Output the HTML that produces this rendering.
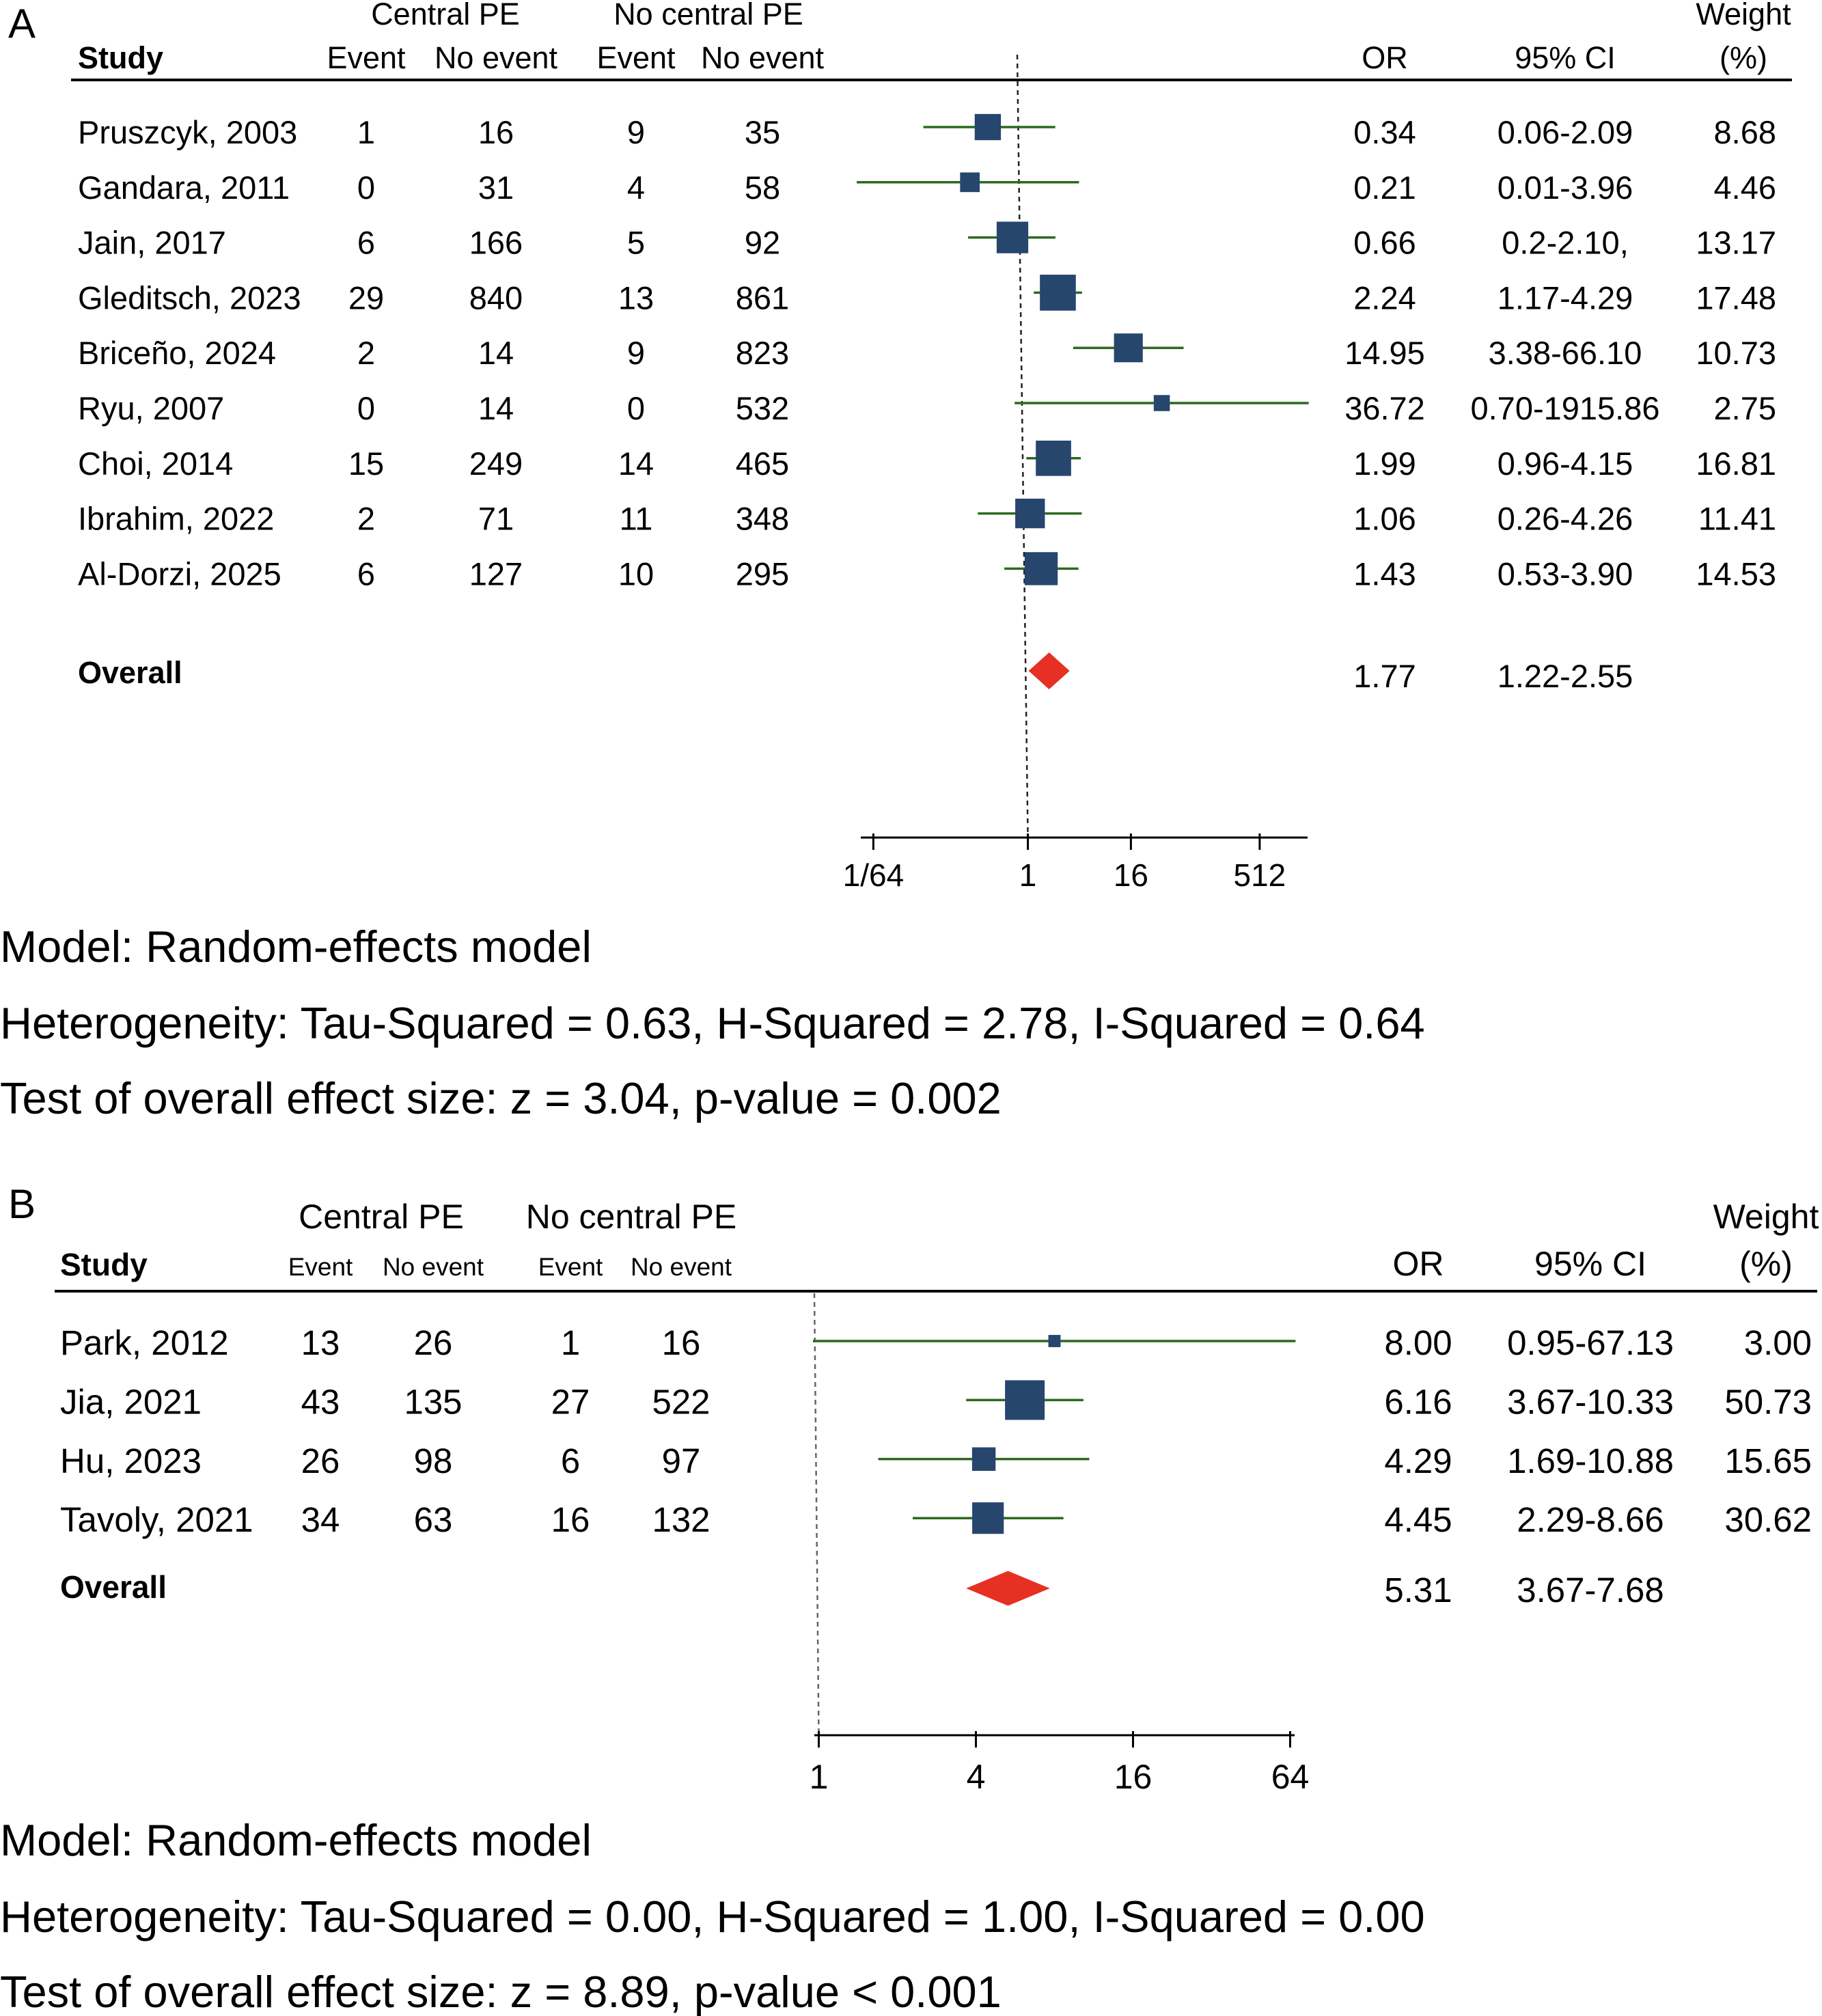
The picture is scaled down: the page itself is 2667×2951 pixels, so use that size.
<!DOCTYPE html>
<html><head><meta charset="utf-8"><style>
html,body{margin:0;padding:0;background:#fff;}
svg{display:block;font-family:"Liberation Sans",Arial,sans-serif;}
</style></head><body>
<svg id="fig" width="2667" height="2951" viewBox="0 0 2667 2951" xmlns="http://www.w3.org/2000/svg">
<g id="panelA"></g>
<g id="panelB"></g>
</svg>
<script>
// ---- Panel A data ----
const A_studies=["Pruszcyk, 2003","Gandara, 2011","Jain, 2017","Gleditsch, 2023","Briceño, 2024","Ryu, 2007","Choi, 2014","Ibrahim, 2022","Al-Dorzi, 2025"];
const A_ev1=["1","0","6","29","2","0","15","2","6"];
const A_ne1=["16","31","166","840","14","14","249","71","127"];
const A_ev2=["9","4","5","13","9","0","14","11","10"];
const A_ne2=["35","58","92","861","823","532","465","348","295"];
const A_or=[0.34,0.21,0.66,2.24,14.95,36.72,1.99,1.06,1.43];
const A_lo=[0.06,0.01,0.2,1.17,3.38,0.70,0.96,0.26,0.53];
const A_hi=[2.09,3.96,2.10,4.29,66.10,1915.86,4.15,4.26,3.90];
const A_w=[8.68,4.46,13.17,17.48,10.73,2.75,16.81,11.41,14.53];
const A_orText=["0.34","0.21","0.66","2.24","14.95","36.72","1.99","1.06","1.43"];
const A_ciText=["0.06-2.09","0.01-3.96","0.2-2.10,","1.17-4.29","3.38-66.10","0.70-1915.86","0.96-4.15","0.26-4.26","0.53-3.90"];
const A_wText=["8.68","4.46","13.17","17.48","10.73","2.75","16.81","11.41","14.53"];
const A_overall=[1.77,1.22,2.55];
const A_overallText=["1.77","1.22-2.55"];
const A_ticks=[1/64,1,16,512];
const A_tickLabels=["1/64","1","16","512"];
const A_stats=["Model: Random-effects model","Heterogeneity: Tau-Squared = 0.63, H-Squared = 2.78, I-Squared = 0.64","Test of overall effect size: z = 3.04, p-value = 0.002"];
// ---- Panel B data ----
const B_studies=["Park, 2012","Jia, 2021","Hu, 2023","Tavoly, 2021"];
const B_ev1=["13","43","26","34"];
const B_ne1=["26","135","98","63"];
const B_ev2=["1","27","6","16"];
const B_ne2=["16","522","97","132"];
const B_or=[8.00,6.16,4.29,4.45];
const B_lo=[0.95,3.67,1.69,2.29];
const B_hi=[67.13,10.33,10.88,8.66];
const B_w=[3.00,50.73,15.65,30.62];
const B_orText=["8.00","6.16","4.29","4.45"];
const B_ciText=["0.95-67.13","3.67-10.33","1.69-10.88","2.29-8.66"];
const B_wText=["3.00","50.73","15.65","30.62"];
const B_overall=[5.31,3.67,7.68];
const B_overallText=["5.31","3.67-7.68"];
const B_ticks=[1,4,16,64];
const B_tickLabels=["1","4","16","64"];
const B_stats=["Model: Random-effects model","Heterogeneity: Tau-Squared = 0.00, H-Squared = 1.00, I-Squared = 0.00","Test of overall effect size: z = 8.89, p-value < 0.001"];

const NS="http://www.w3.org/2000/svg";
const BOX="#27466e", LINE="#2b6a1e", DIA="#e63024";
function mk(parent,tag,attrs,name,txt){
  const el=document.createElementNS(NS,tag);
  for(const k in attrs) el.setAttribute(k,attrs[k]);
  
  
  if(txt!==undefined) el.textContent=txt;
  parent.appendChild(el);
  return el;
}
function T(p,x,y,s,size,anchor,name,bold){
  return mk(p,'text',{x:x,y:y,'font-size':size,'text-anchor':anchor||'start','font-weight':bold?'bold':'normal',fill:'#000'},name,s);
}

function panel(g,c,d){
  const xs=v=>c.x1+c.unit*Math.log2(v);
  T(g,c.letterX,c.letterY,c.letter,60,'start','panel-letter');
  T(g,c.cp,c.h1,"Central PE",c.hf,'middle','central-pe-header');
  T(g,c.ncp,c.h1,"No central PE",c.hf,'middle','no-central-pe-header');
  T(g,c.studyX,c.h2,"Study",c.stf,'start','study-header',true);
  T(g,c.c1,c.h2,"Event",c.sf,'middle','event-header');
  T(g,c.c2,c.h2,"No event",c.sf,'middle','no-event-header');
  T(g,c.c3,c.h2,"Event",c.sf,'middle','event-header');
  T(g,c.c4,c.h2,"No event",c.sf,'middle','no-event-header');
  T(g,c.orX,c.h2,"OR",c.hf,'middle','or-header');
  T(g,c.ciX,c.h2,"95% CI",c.hf,'middle','ci-header');
  T(g,c.wX,c.h1,"Weight",c.hf,'middle','weight-header');
  T(g,c.wX,c.h2,"(%)",c.hf,'middle','weight-unit-header');
  mk(g,'line',{x1:c.lineL,x2:c.lineR,y1:c.lineY,y2:c.lineY,stroke:'#000','stroke-width':4},'header-rule');
  mk(g,'line',{x1:c.dTopX,y1:c.lineY-37+c.dOff,x2:xs(1),y2:c.axisY,stroke:c.dCol,'stroke-width':2.5,'stroke-dasharray':'7,6'},'null-effect-line');
  for(let i=0;i<d.studies.length;i++){
    const y=c.y0+i*c.step, b=y+c.bo;
    T(g,c.studyX,b,d.studies[i],c.bf,'start','study-name');
    T(g,c.c1,b,d.ev1[i],c.bf,'middle','event-count');
    T(g,c.c2,b,d.ne1[i],c.bf,'middle','no-event-count');
    T(g,c.c3,b,d.ev2[i],c.bf,'middle','event-count');
    T(g,c.c4,b,d.ne2[i],c.bf,'middle','no-event-count');
    T(g,c.orX,b,d.orT[i],c.bf,'middle','or-value');
    T(g,c.ciX,b,d.ciT[i],c.bf,'middle','ci-value');
    T(g,c.wR,b,d.wT[i],c.bf,'end','weight-value');
    mk(g,'line',{x1:xs(d.lo[i]),x2:xs(d.hi[i]),y1:y,y2:y,stroke:LINE,'stroke-width':3.5},'ci-line');
    const s=c.sa+c.sb*Math.sqrt(d.w[i]);
    mk(g,'rect',{x:xs(d.or[i])-s/2,y:y-s/2,width:s,height:s,fill:BOX},'study-marker');
  }
  const oy=c.oy;
  T(g,c.studyX,oy+c.bo-6,"Overall",c.stf,'start','overall-label',true);
  T(g,c.orX,oy+c.bo,d.ovT[0],c.bf,'middle','overall-or');
  T(g,c.ciX,oy+c.bo,d.ovT[1],c.bf,'middle','overall-ci');
  const M=xs(d.ov[0]);
  const L=Math.min(xs(d.ov[1]),M-c.dminHalf),R=Math.max(xs(d.ov[2]),M+c.dminHalf),h=c.dh/2;
  mk(g,'polygon',{points:`${L},${oy} ${M},${oy-h} ${R},${oy} ${M},${oy+h}`,fill:DIA},'overall-diamond');
  mk(g,'line',{x1:c.axL,x2:c.axR,y1:c.axisY,y2:c.axisY,stroke:'#000','stroke-width':3},'x-axis');
  for(let i=0;i<d.ticks.length;i++){
    const x=xs(d.ticks[i]);
    mk(g,'line',{x1:x,x2:x,y1:c.axisY-6,y2:c.axisY+18,stroke:'#000','stroke-width':3},'x-tick');
    T(g,x,c.tickY,d.tl[i],c.tf,'middle','x-tick-label');
  }
  for(let i=0;i<d.stats.length;i++){
    T(g,0,c.statY[i],d.stats[i],65,'start','model-stats-line');
  }
}

panel(document.getElementById('panelA'),{
  letter:"A",letterX:12,letterY:55,cp:652,ncp:1037,h1:36,h2:100,hf:45,sf:45,stf:45,studyX:114,
  c1:536,c2:726,c3:931,c4:1116,orX:2027,ciX:2291,wX:2552,wR:2600,
  lineL:104,lineR:2623,lineY:117,dTopX:1489,dOff:0,dCol:'#222',
  x1:1504.6,unit:37.7,y0:186,step:80.8,bo:24,bf:47,sa:4.4,sb:11.53,
  oy:982,dh:54,dminHalf:30,axL:1260,axR:1914,axisY:1226,tickY:1297,tf:46,statY:[1408,1520,1630]
},{studies:A_studies,ev1:A_ev1,ne1:A_ne1,ev2:A_ev2,ne2:A_ne2,or:A_or,lo:A_lo,hi:A_hi,w:A_w,
  orT:A_orText,ciT:A_ciText,wT:A_wText,ov:A_overall,ovT:A_overallText,ticks:A_ticks,tl:A_tickLabels,stats:A_stats});

panel(document.getElementById('panelB'),{
  letter:"B",letterX:12,letterY:1783,cp:558,ncp:924,h1:1798,h2:1867,hf:50,sf:37,stf:46,studyX:88,
  c1:469,c2:634,c3:835,c4:997,orX:2076,ciX:2328,wX:2585,wR:2652,
  lineL:80,lineR:2660,lineY:1890,dTopX:1192,dOff:40,dCol:'#666',
  x1:1198.5,unit:115,y0:1963,step:86.4,bo:20,bf:51,sa:5,sb:7.44,
  oy:2325,dh:51,dminHalf:10,axL:1192,axR:1895,axisY:2540,tickY:2618,tf:50,statY:[2716,2828,2938]
},{studies:B_studies,ev1:B_ev1,ne1:B_ne1,ev2:B_ev2,ne2:B_ne2,or:B_or,lo:B_lo,hi:B_hi,w:B_w,
  orT:B_orText,ciT:B_ciText,wT:B_wText,ov:B_overall,ovT:B_overallText,ticks:B_ticks,tl:B_tickLabels,stats:B_stats});
</script>
</body></html>
